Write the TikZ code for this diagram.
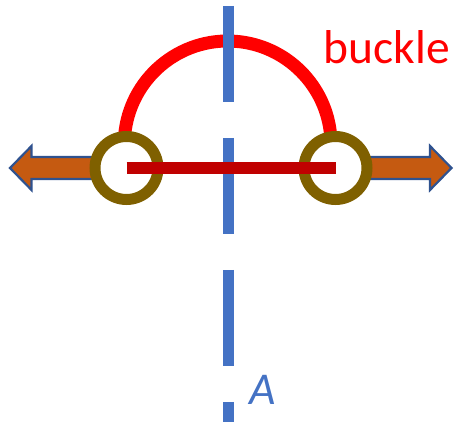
\documentclass[tikz,border=0pt]{standalone}
\usepackage{fontspec}
\setmainfont{Carlito}
\definecolor{axisblue}{HTML}{4472C4}
\definecolor{arcred}{HTML}{FF0000}
\definecolor{barred}{HTML}{C00000}
\definecolor{ringolive}{HTML}{7F6000}
\definecolor{arroworange}{HTML}{C55A11}
\definecolor{arrowline}{HTML}{2F528F}
\tikzset{
  ring/.style={circle, draw=ringolive, line width=11pt, minimum size=63pt, inner sep=0pt},
  pullarrow/.style={fill=arroworange, draw=arrowline, line width=2.2pt, line join=miter},
  axis/.style={draw=axisblue, line width=11pt, dash pattern=on 96pt off 36pt},
}
\begin{document}
\begin{tikzpicture}[x=1pt,y=-1pt]
\useasboundingbox (0,0) rectangle (456,422);
\begin{scope}
\clip (0,0) rectangle (456,422);
% buckle arc
\draw[arcred, line width=13pt] (124.6,136) arc[start angle=184.66, end angle=355.34, radius=103.4];
% axis
\coordinate (axtop) at (228.8,6);
\coordinate (axbot) at (228.8,500);
\draw[axis] (axtop) -- (axbot);
\end{scope}
% arrows
\draw[pullarrow] (93,157) -- (31.5,157) -- (31.5,146) -- (10,168) -- (31.5,190) -- (31.5,179) -- (93,179) -- cycle;
\draw[pullarrow] (368,157) -- (430,157) -- (430,146) -- (451.5,168) -- (430,190) -- (430,179) -- (368,179) -- cycle;
% rings
\node[ring] (L) at (126.5,168) {};
\node[ring] (R) at (335.5,168) {};
% bar
\draw[barred, line width=12pt] (L.center) -- (R.center);
% labels
\node[anchor=base west, inner sep=0pt, text=arcred, font=\fontsize{47.5}{52}\selectfont] (buckle) at (323.5,63.3) {buckle};
\node[anchor=base west, inner sep=0pt, text=axisblue, font=\fontsize{45.5}{50}\selectfont\itshape] (A) at (249,405) {A};
\end{tikzpicture}
\end{document}
